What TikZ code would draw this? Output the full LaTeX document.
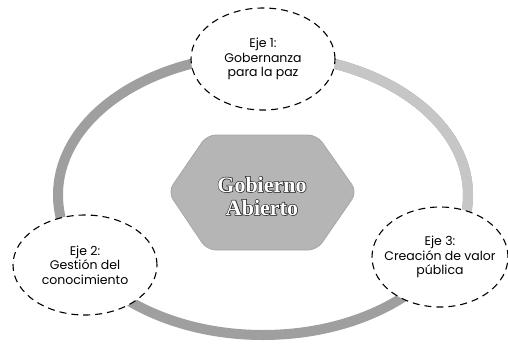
\documentclass[tikz,border=0pt]{standalone}
\usepackage{fontspec}
\setmainfont{Poppins}
\newfontfamily\titlefont{Liberation Serif}
\newfontfamily\titlefontouter{Liberation Serif}[FakeBold=6]
\newcommand\outlinedword[1]{\leavevmode\rlap{\titlefontouter\bfseries\color{black!85}#1}{\color{white}#1}}
\usetikzlibrary{shapes.geometric}
\begin{document}
\begin{tikzpicture}[x=1pt,y=-1pt,
  ringdark/.style={line width=10pt,draw=gray!75},
  ringlight/.style={line width=10pt,draw=gray!45},
  axisbox/.style={ellipse,draw=black,fill=white,dashed,dash pattern=on 7pt off 5pt,line width=1.1pt,
     inner sep=0pt,align=center,font=\fontsize{12.5}{14.5}\selectfont},
  hexfill/.style={fill=gray!58,draw=gray!70,line width=0.8pt,rounded corners=9pt},
  titletext/.style={align=center,font=\titlefont\bfseries\fontsize{22}{23}\selectfont}
]
\useasboundingbox (0,0) rectangle (508,343);
% ring
\draw[ringdark] (263,195) ellipse [x radius=205, y radius=140];
\draw[ringlight] (263,195) ++(0:205 and 140) arc[start angle=0,end angle=-80,x radius=205,y radius=140];
\draw[ringlight] (263,195) ++(0:205 and 140) arc[start angle=0,end angle=10,x radius=205,y radius=140];
% hexagon
\draw[hexfill] (168,192) -- (207,135) -- (317,135) -- (357,192) -- (317,250) -- (207,250) -- cycle;
\node[titletext] (title) at (262,196) {\outlinedword{Gobierno}\\\outlinedword{Abierto}};
% axis ellipses
\node[axisbox,minimum width=144pt,minimum height=102pt] (e1) at (263,59) {Eje 1:\\Gobernanza\\para la paz};
\node[axisbox,minimum width=144pt,minimum height=100pt] (e2) at (85,265) {Eje 2:\\Gestión del\\conocimiento};
\node[axisbox,inner xsep=-10pt,minimum width=136pt,minimum height=100pt] (e3) at (440,257) {Eje 3:\\Creación de valor\\pública};
\end{tikzpicture}
\end{document}
